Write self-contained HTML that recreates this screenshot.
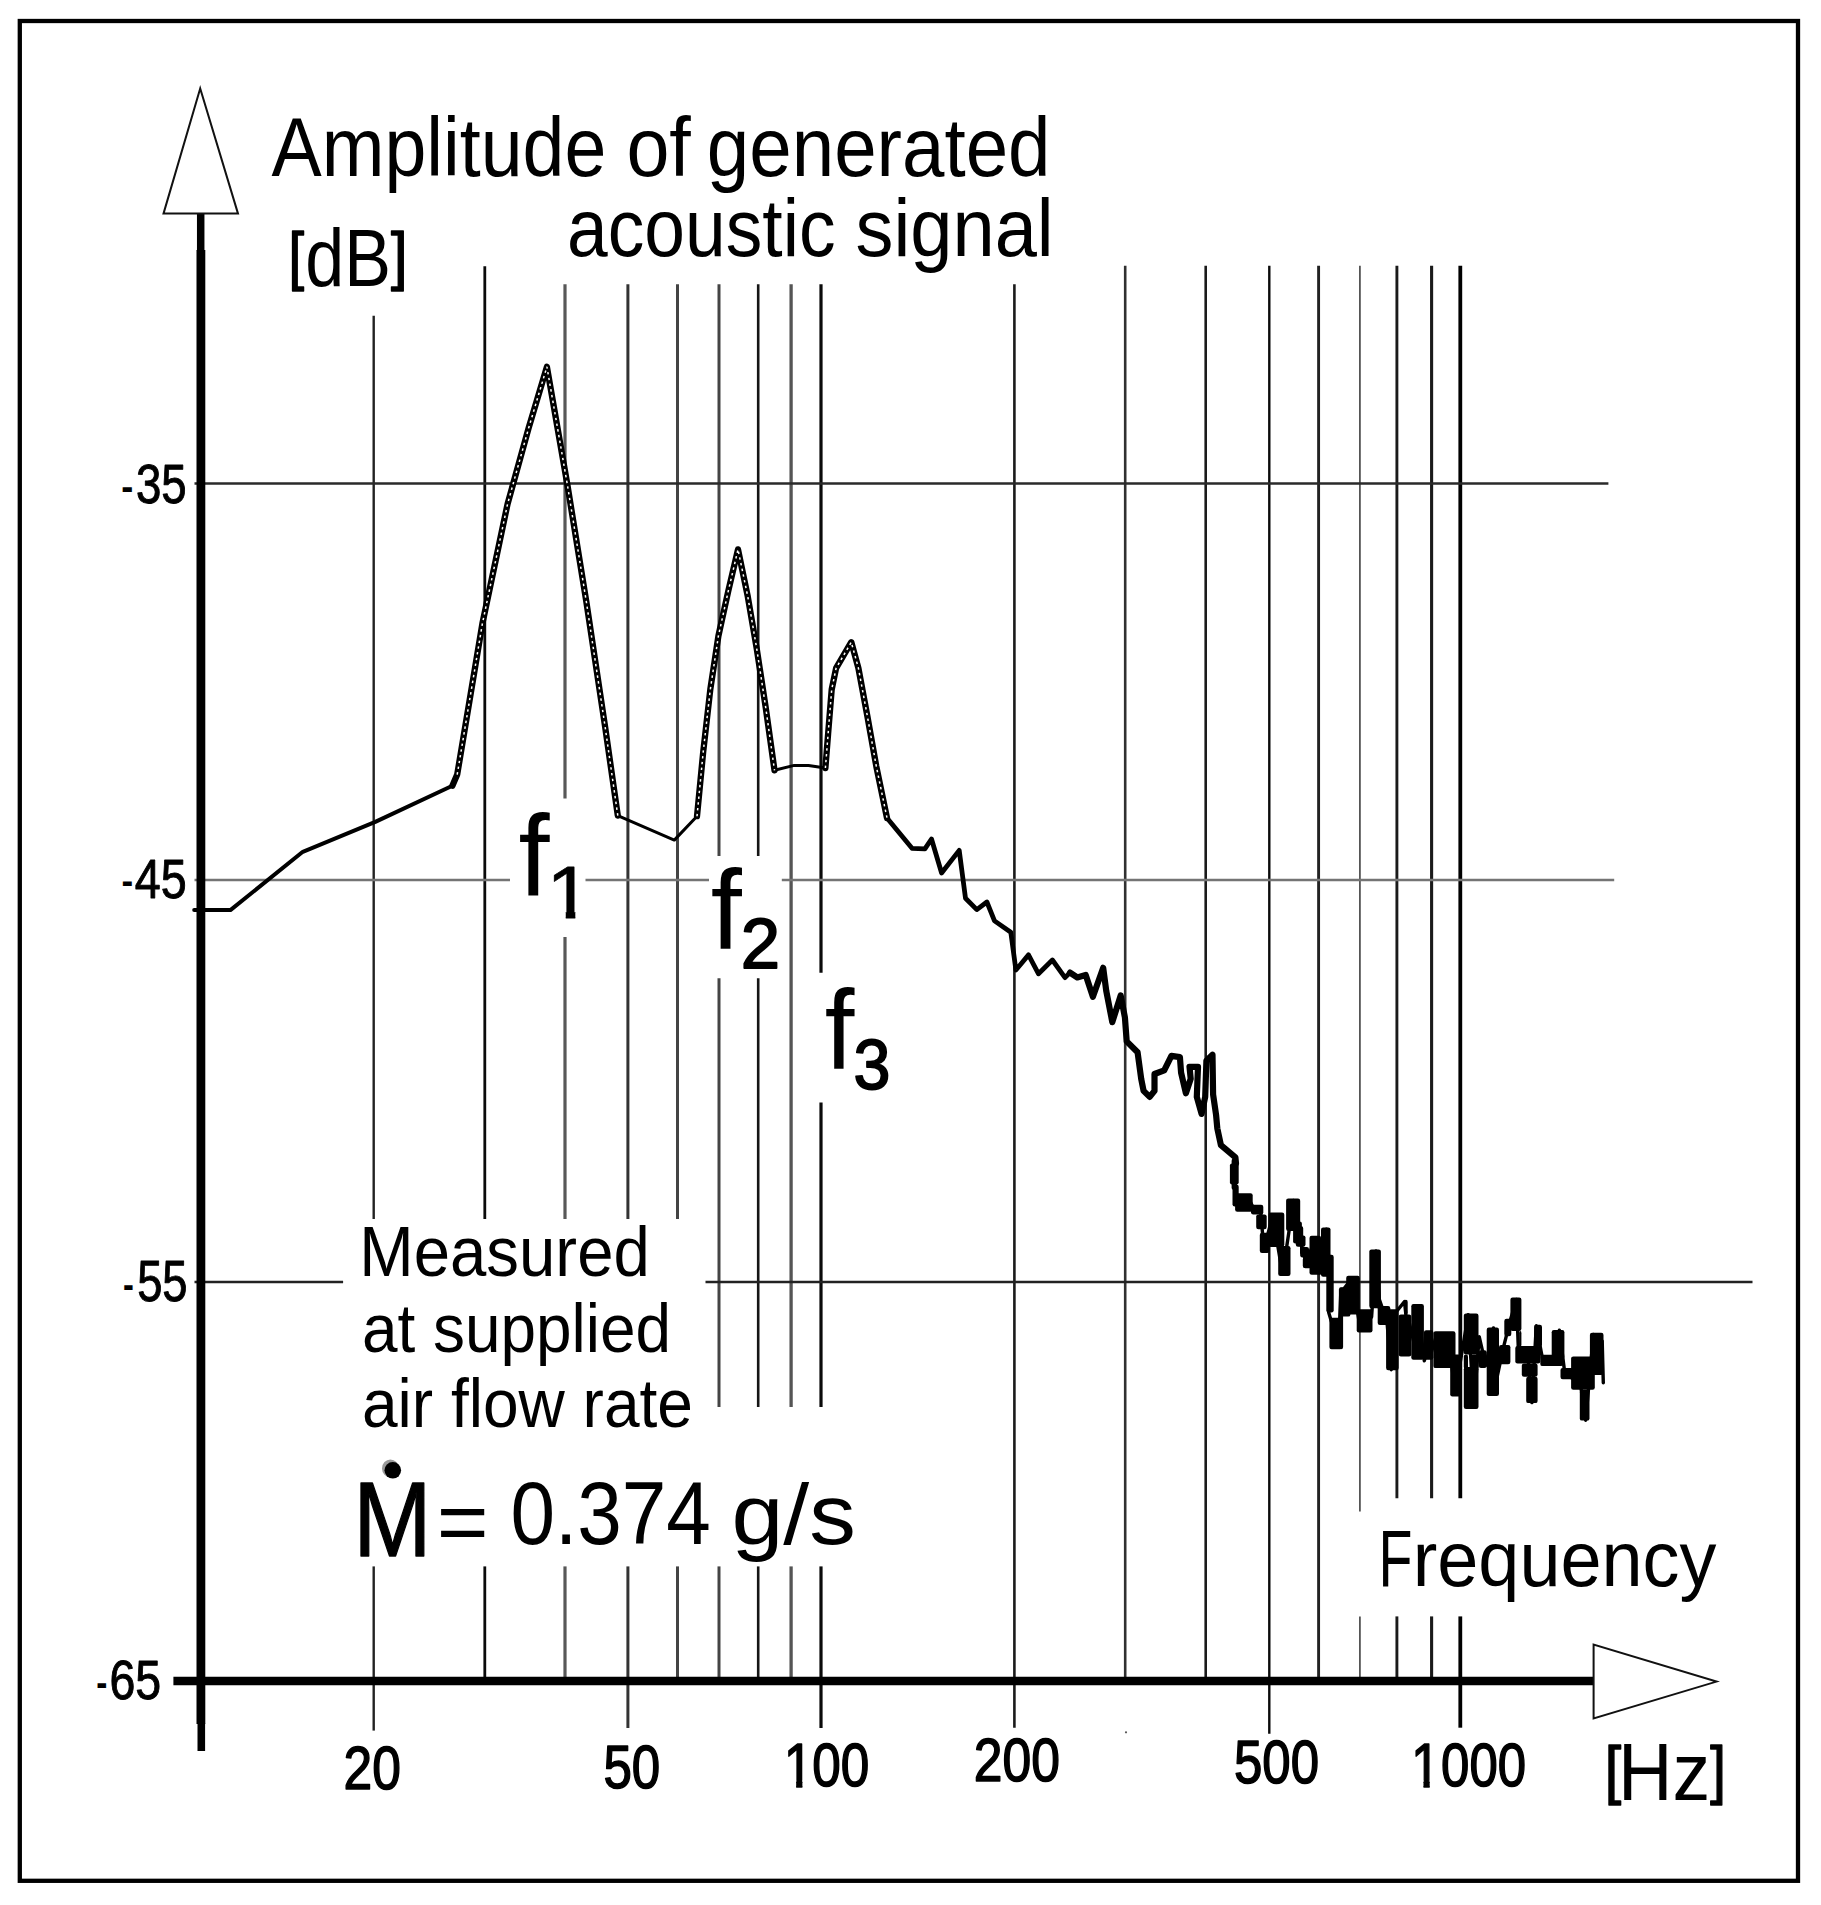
<!DOCTYPE html>
<html lang="en"><head><meta charset="utf-8"><title>Amplitude of generated acoustic signal</title>
<style>html,body{margin:0;padding:0;background:#fff}body{width:1821px;height:1905px;overflow:hidden}svg{display:block}text{font-family:"Liberation Sans",sans-serif;font-size:100px;white-space:pre}</style></head><body>
<svg width="1821" height="1905" viewBox="0 0 1821 1905">
<defs><clipPath id="nofoot" clipPathUnits="userSpaceOnUse"><path d="M-5,-90H70V-9.8H35.4V4H23.6V-9.8H-5Z"/></clipPath></defs>
<rect x="0" y="0" width="1821" height="1905" fill="#fff"/>
<rect x="19.8" y="21" width="1778.2" height="1859.8" fill="none" stroke="#000" stroke-width="4.3"/>
<g id="grid">
<line x1="373.7" y1="315.7" x2="373.7" y2="1219.1" stroke="#222" stroke-width="2.4"/>
<line x1="373.7" y1="1566.4" x2="373.7" y2="1730.6" stroke="#222" stroke-width="2.4"/>
<line x1="484.8" y1="266.3" x2="484.8" y2="1219.1" stroke="#0a0a0a" stroke-width="2.8"/>
<line x1="484.8" y1="1566.4" x2="484.8" y2="1681" stroke="#0a0a0a" stroke-width="2.8"/>
<line x1="565.0" y1="284.3" x2="565.0" y2="798.4" stroke="#585858" stroke-width="3.2"/>
<line x1="565.0" y1="937.1" x2="565.0" y2="1219.1" stroke="#585858" stroke-width="3.2"/>
<line x1="565.0" y1="1566.4" x2="565.0" y2="1681" stroke="#585858" stroke-width="3.2"/>
<line x1="627.9" y1="284.3" x2="627.9" y2="1219.1" stroke="#333" stroke-width="3.0"/>
<line x1="627.9" y1="1566.4" x2="627.9" y2="1728" stroke="#333" stroke-width="3.0"/>
<line x1="677.5" y1="284.3" x2="677.5" y2="1219.1" stroke="#444" stroke-width="3.0"/>
<line x1="677.5" y1="1566.4" x2="677.5" y2="1681" stroke="#444" stroke-width="3.0"/>
<line x1="719.0" y1="284.3" x2="719.0" y2="856.1" stroke="#444" stroke-width="3.0"/>
<line x1="719.0" y1="978.3" x2="719.0" y2="1406.9" stroke="#444" stroke-width="3.0"/>
<line x1="719.0" y1="1566.4" x2="719.0" y2="1681" stroke="#444" stroke-width="3.0"/>
<line x1="758.2" y1="284.3" x2="758.2" y2="856.1" stroke="#151515" stroke-width="2.6"/>
<line x1="758.2" y1="978.3" x2="758.2" y2="1406.9" stroke="#151515" stroke-width="2.6"/>
<line x1="758.2" y1="1566.4" x2="758.2" y2="1681" stroke="#151515" stroke-width="2.6"/>
<line x1="791.1" y1="284.3" x2="791.1" y2="1406.9" stroke="#555" stroke-width="3.3"/>
<line x1="791.1" y1="1566.4" x2="791.1" y2="1681" stroke="#555" stroke-width="3.3"/>
<line x1="821.0" y1="284.3" x2="821.0" y2="972.8" stroke="#0a0a0a" stroke-width="3.2"/>
<line x1="821.0" y1="1102.4" x2="821.0" y2="1406.9" stroke="#0a0a0a" stroke-width="3.2"/>
<line x1="821.0" y1="1566.4" x2="821.0" y2="1728" stroke="#0a0a0a" stroke-width="3.2"/>
<line x1="1014.4" y1="284.3" x2="1014.4" y2="1727.7" stroke="#1a1a1a" stroke-width="2.6"/>
<line x1="1125.2" y1="265.7" x2="1125.2" y2="1681" stroke="#303030" stroke-width="2.6"/>
<line x1="1205.7" y1="265.7" x2="1205.7" y2="1681" stroke="#1a1a1a" stroke-width="2.6"/>
<line x1="1269.3" y1="265.7" x2="1269.3" y2="1733.8" stroke="#0a0a0a" stroke-width="2.4"/>
<line x1="1318.6" y1="265.7" x2="1318.6" y2="1681" stroke="#222" stroke-width="2.9"/>
<line x1="1359.9" y1="265.7" x2="1359.9" y2="1511.6" stroke="#555" stroke-width="1.8"/>
<line x1="1359.9" y1="1616.4" x2="1359.9" y2="1681" stroke="#555" stroke-width="1.8"/>
<line x1="1396.9" y1="265.7" x2="1396.9" y2="1498.2" stroke="#1a1a1a" stroke-width="2.9"/>
<line x1="1396.9" y1="1616.4" x2="1396.9" y2="1681" stroke="#1a1a1a" stroke-width="2.9"/>
<line x1="1431.6" y1="265.7" x2="1431.6" y2="1498.2" stroke="#1a1a1a" stroke-width="3.1"/>
<line x1="1431.6" y1="1616.4" x2="1431.6" y2="1681" stroke="#1a1a1a" stroke-width="3.1"/>
<line x1="1460.3" y1="265.7" x2="1460.3" y2="1498.2" stroke="#000" stroke-width="3.8"/>
<line x1="1460.3" y1="1616.4" x2="1460.3" y2="1727.7" stroke="#000" stroke-width="3.8"/>
<line x1="194.5" y1="483.5" x2="1608.4" y2="483.5" stroke="#2a2a2a" stroke-width="2.3"/>
<line x1="194.5" y1="880" x2="510" y2="880" stroke="#747474" stroke-width="2.6"/>
<line x1="585.5" y1="880" x2="709" y2="880" stroke="#747474" stroke-width="2.6"/>
<line x1="781.8" y1="880" x2="1614.2" y2="880" stroke="#747474" stroke-width="2.6"/>
<line x1="194.5" y1="1282" x2="343.1" y2="1282" stroke="#222" stroke-width="2.3"/>
<line x1="705.5" y1="1282" x2="1752.5" y2="1282" stroke="#222" stroke-width="2.3"/>
<circle cx="1126" cy="1732.3" r="1.1" fill="#555"/>
</g>
<g id="axes">
<line x1="200.7" y1="214" x2="200.7" y2="251" stroke="#000" stroke-width="7.5"/>
<line x1="200.9" y1="250" x2="200.9" y2="1724" stroke="#000" stroke-width="8.8"/>
<line x1="201.3" y1="1723" x2="201.3" y2="1751" stroke="#000" stroke-width="7.6"/>
<line x1="173.4" y1="1681" x2="1593" y2="1681" stroke="#000" stroke-width="8.6"/>
<polygon points="200.2,88.5 163.5,213.6 238,213.6" fill="#fff" stroke="#111" stroke-width="2" stroke-linejoin="miter"/>
<polygon points="1593.6,1644.6 1593.6,1718.4 1716.5,1681.6" fill="#fff" stroke="#111" stroke-width="2" stroke-linejoin="miter"/>
</g>
<g id="curve">
<polyline points="194.2,910.1 230.4,910.1 302.8,851.8 375.3,821.9 452.4,785.7" fill="none" stroke="#000" stroke-width="4.0" stroke-linejoin="round" stroke-linecap="round" />
<polyline points="452.4,785.7 457.2,774.6 482.4,623.5 507.6,503.8 528.6,428.2 546.9,366.8 567.4,484.9 586.3,601.4 605.2,727.4 617.8,815.6" fill="none" stroke="#000" stroke-width="6.3" stroke-linejoin="round" stroke-linecap="round" />
<polyline points="617.8,815.6 674.3,840.1 697.0,816.2" fill="none" stroke="#000" stroke-width="3.0" stroke-linejoin="round" stroke-linecap="round" />
<polyline points="697.0,816.2 703.2,752.0 710.3,689.5 718.4,636.0 728.2,591.4 738.0,549.4 747.8,596.7 756.7,648.5 765.7,707.4 774.5,770.3" fill="none" stroke="#000" stroke-width="6.3" stroke-linejoin="round" stroke-linecap="round" />
<polyline points="774.5,770.3 794.2,765.4 808.5,765.4 825.4,768.0" fill="none" stroke="#000" stroke-width="3.0" stroke-linejoin="round" stroke-linecap="round" />
<polyline points="825.4,768.0 828.1,734.1 831.7,689.5 836.1,668.1 851.3,642.2 858.4,668.1 867.4,716.3 876.3,766.3 887.0,818.0" fill="none" stroke="#000" stroke-width="6.3" stroke-linejoin="round" stroke-linecap="round" />
<polyline points="887.0,818.0 912.0,848.3 924.9,848.9 931.5,839.0 941.6,873.0 959.2,850.4 965.5,898.2 976.8,909.6 986.9,902.0 994.5,920.9 1010.8,932.2 1015.9,970.0 1028.5,954.9 1038.5,973.8 1052.4,960.0 1065.0,977.6 1070.0,972.6" fill="none" stroke="#000" stroke-width="4.8" stroke-linejoin="round" stroke-linecap="round" />
<polyline points="1070.0,972.6 1077.2,977.4 1085.7,975.0 1092.9,996.7 1103.2,967.8 1106.2,990.7 1112.3,1022.1 1120.7,995.5 1124.9,1017.3 1126.7,1041.4 1137.6,1052.3 1141.2,1078.8 1143.6,1090.9 1149.7,1096.9 1154.5,1090.9 1154.5,1074.0 1164.2,1070.4 1171.4,1055.9 1179.9,1057.1 1181.1,1072.8 1185.9,1093.3 1190.7,1078.8 1189.5,1066.8 1198.0,1066.8 1196.8,1096.9 1201.6,1113.9 1205.2,1096.9 1206.4,1060.7 1212.5,1054.7 1213.1,1094.5 1216.1,1115.1 1217.3,1128.3 1220.9,1145.2 1235.4,1157.3 1236.0,1163.3" fill="none" stroke="#000" stroke-width="6.2" stroke-linejoin="round" stroke-linecap="round" />
<polyline points="1234.3,1161.0 1234.3,1187.3" fill="none" stroke="#000" stroke-width="5.4" stroke-linejoin="round" stroke-linecap="round" />
<polyline points="1234.3,1161.0 1234.3,1187.3 1238.7,1209.3 1247.5,1196.1 1252.9,1207.1 1260.6,1211.5 1263.9,1248.8 1272.7,1215.9 1282.6,1274.1 1293.6,1200.5 1299.1,1237.9 1306.8,1264.2 1314.5,1237.9 1319.9,1273.0 1326.5,1229.1 1329.8,1273.0 1328.7,1312.5 1338.6,1345.5 1340.8,1292.8 1351.8,1278.5 1360.6,1330.1 1371.6,1316.9 1376.0,1251.0 1379.3,1299.4 1386.9,1321.3 1391.3,1369.7 1395.7,1312.5 1404.5,1301.6 1408.9,1343.3 1417.7,1306.0 1424.3,1360.9 1430.9,1336.7 1439.7,1365.3 1448.4,1334.5 1455.0,1393.8 1468.2,1314.7 1473.7,1407.0 1479.2,1336.7 1485.8,1365.3 1493.5,1327.9 1493.5,1393.8 1503.4,1347.7 1510.0,1321.3 1516.5,1299.4 1518.7,1358.7 1527.5,1352.1 1531.9,1402.6 1536.3,1325.7 1542.9,1360.9 1553.9,1358.7 1559.4,1330.1 1564.9,1374.0 1580.2,1382.8 1585.7,1420.2 1593.4,1334.5 1602.2,1341.1 1603.3,1382.8" fill="none" stroke="#000" stroke-width="3.4" stroke-linejoin="round" stroke-linecap="round" />
<rect x="1229.9" y="1163.4" width="8.8" height="21.1" rx="2.2" fill="#000"/>
<rect x="1232.5" y="1184.5" width="6.2" height="22.0" rx="2.2" fill="#000"/>
<rect x="1235.1" y="1193.3" width="17.6" height="18.5" rx="2.2" fill="#000"/>
<rect x="1251.0" y="1204.7" width="12.3" height="9.7" rx="2.2" fill="#000"/>
<rect x="1256.2" y="1214.4" width="10.5" height="14.9" rx="2.2" fill="#000"/>
<rect x="1259.8" y="1232.8" width="9.7" height="20.2" rx="2.2" fill="#000"/>
<rect x="1268.5" y="1212.6" width="15.8" height="34.3" rx="2.2" fill="#000"/>
<rect x="1278.2" y="1246.0" width="12.3" height="29.9" rx="2.2" fill="#000"/>
<rect x="1286.1" y="1198.5" width="14.1" height="32.5" rx="2.2" fill="#000"/>
<rect x="1293.1" y="1221.4" width="8.8" height="22.0" rx="2.2" fill="#000"/>
<rect x="1295.8" y="1235.4" width="9.7" height="11.4" rx="2.2" fill="#000"/>
<rect x="1300.2" y="1246.9" width="8.8" height="10.5" rx="2.2" fill="#000"/>
<rect x="1302.8" y="1257.4" width="8.8" height="10.5" rx="2.2" fill="#000"/>
<rect x="1300.0" y="1226.3" width="3.2" height="28.4" rx="2.2" fill="#000"/>
<rect x="1303.2" y="1249.4" width="8.4" height="18.9" rx="2.2" fill="#000"/>
<rect x="1309.5" y="1235.8" width="11.6" height="38.9" rx="2.2" fill="#000"/>
<rect x="1321.0" y="1227.4" width="9.5" height="49.4" rx="2.2" fill="#000"/>
<rect x="1326.3" y="1254.7" width="7.4" height="57.8" rx="2.2" fill="#000"/>
<rect x="1329.4" y="1317.7" width="12.6" height="31.5" rx="2.2" fill="#000"/>
<rect x="1338.9" y="1287.2" width="4.2" height="62.0" rx="2.2" fill="#000"/>
<rect x="1339.9" y="1287.2" width="10.5" height="29.4" rx="2.2" fill="#000"/>
<rect x="1346.2" y="1275.7" width="13.7" height="38.9" rx="2.2" fill="#000"/>
<rect x="1356.7" y="1309.3" width="15.8" height="23.1" rx="2.2" fill="#000"/>
<rect x="1369.3" y="1249.4" width="11.6" height="58.8" rx="2.2" fill="#000"/>
<rect x="1377.7" y="1306.1" width="12.6" height="18.9" rx="2.2" fill="#000"/>
<rect x="1386.1" y="1309.3" width="12.6" height="60.9" rx="2.2" fill="#000"/>
<rect x="1398.7" y="1314.5" width="12.6" height="42.0" rx="2.2" fill="#000"/>
<rect x="1404.0" y="1299.8" width="3.7" height="14.7" rx="2.2" fill="#000"/>
<rect x="1411.3" y="1304.0" width="12.6" height="55.7" rx="2.2" fill="#000"/>
<rect x="1423.9" y="1330.3" width="9.5" height="29.4" rx="2.2" fill="#000"/>
<rect x="1433.4" y="1331.3" width="22.1" height="36.8" rx="2.2" fill="#000"/>
<rect x="1450.2" y="1354.4" width="10.5" height="42.0" rx="2.2" fill="#000"/>
<rect x="1463.8" y="1313.5" width="14.7" height="41.0" rx="2.2" fill="#000"/>
<rect x="1463.8" y="1354.4" width="4.2" height="14.7" rx="2.2" fill="#000"/>
<rect x="1471.2" y="1354.4" width="7.4" height="14.7" rx="2.2" fill="#000"/>
<rect x="1463.8" y="1367.0" width="14.7" height="42.0" rx="2.2" fill="#000"/>
<rect x="1478.8" y="1350.3" width="7.9" height="17.6" rx="2.2" fill="#000"/>
<rect x="1486.7" y="1327.5" width="12.3" height="68.5" rx="2.2" fill="#000"/>
<rect x="1499.0" y="1345.0" width="11.4" height="19.3" rx="2.2" fill="#000"/>
<rect x="1504.3" y="1318.7" width="7.0" height="17.6" rx="2.2" fill="#000"/>
<rect x="1510.4" y="1297.6" width="11.0" height="33.4" rx="2.2" fill="#000"/>
<rect x="1519.2" y="1331.0" width="2.2" height="15.8" rx="2.2" fill="#000"/>
<rect x="1515.3" y="1345.9" width="25.0" height="17.6" rx="2.2" fill="#000"/>
<rect x="1521.8" y="1363.5" width="15.8" height="13.2" rx="2.2" fill="#000"/>
<rect x="1526.2" y="1376.7" width="11.4" height="26.4" rx="2.2" fill="#000"/>
<rect x="1534.1" y="1324.8" width="7.9" height="22.0" rx="2.2" fill="#000"/>
<rect x="1540.3" y="1354.7" width="22.8" height="11.4" rx="2.2" fill="#000"/>
<rect x="1551.7" y="1330.1" width="12.7" height="29.0" rx="2.2" fill="#000"/>
<rect x="1560.5" y="1367.9" width="14.9" height="11.4" rx="2.2" fill="#000"/>
<rect x="1571.1" y="1356.4" width="23.7" height="33.4" rx="2.2" fill="#000"/>
<rect x="1579.8" y="1389.8" width="9.7" height="30.8" rx="2.2" fill="#000"/>
<rect x="1589.9" y="1332.7" width="13.6" height="42.2" rx="2.2" fill="#000"/>
<polyline points="457.2,774.6 482.4,623.5 507.6,503.8 528.6,428.2 546.9,366.8 567.4,484.9 586.3,601.4 605.2,727.4 617.8,815.6" fill="none" stroke="#fff" stroke-width="1.5" stroke-dasharray="2.4 3.4" stroke-linecap="butt"/>
<polyline points="697.0,816.2 703.2,752.0 710.3,689.5 718.4,636.0 728.2,591.4 738.0,549.4 747.8,596.7 756.7,648.5 765.7,707.4 774.5,770.3" fill="none" stroke="#fff" stroke-width="1.5" stroke-dasharray="2.4 3.4" stroke-linecap="butt"/>
<polyline points="825.4,768.0 828.1,734.1 831.7,689.5 836.1,668.1 851.3,642.2 858.4,668.1 867.4,716.3 876.3,766.3 887.0,818.0" fill="none" stroke="#fff" stroke-width="1.5" stroke-dasharray="2.4 3.4" stroke-linecap="butt"/>
</g>
<g id="labels">
<g><text transform="matrix(0.7530 0 0 0.8315 271.50 175.50)" fill="#000" >Amplitude </text><text transform="matrix(0.7725 0 0 0.8315 626.41 175.50)" fill="#000" >of </text><text transform="matrix(0.7632 0 0 0.8315 706.85 175.50)" fill="#000" >generated</text></g>
<g><text transform="matrix(0.7319 0 0 0.8110 567.07 256.20)" fill="#000" >acoustic </text><text transform="matrix(0.7587 0 0 0.8110 855.48 256.20)" fill="#000" >signal</text></g>
<g><text transform="matrix(0.5600 0 0 0.6553 288.48 277.54)" fill="#000"  stroke="#000" stroke-width="1.4" stroke-linejoin="round" vector-effect="non-scaling-stroke">[</text><text transform="matrix(0.7006 0 0 0.8137 305.30 285.80)" fill="#000" >dB</text><text transform="matrix(0.5952 0 0 0.6553 390.90 277.54)" fill="#000"  stroke="#000" stroke-width="1.4" stroke-linejoin="round" vector-effect="non-scaling-stroke">]</text></g>
<g><text transform="matrix(0.3760 0 0 0.6000 121.00 505.00)" fill="#000" >-</text><text transform="matrix(0.4560 0 0 0.5620 135.88 502.99)" fill="#000"  stroke="#000" stroke-width="0.9" stroke-linejoin="round" vector-effect="non-scaling-stroke">35</text></g>
<g><text transform="matrix(0.3640 0 0 0.5750 121.34 898.93)" fill="#000" >-</text><text transform="matrix(0.4668 0 0 0.5549 134.72 898.00)" fill="#000"  stroke="#000" stroke-width="0.9" stroke-linejoin="round" vector-effect="non-scaling-stroke">45</text></g>
<g><text transform="matrix(0.3400 0 0 0.5875 122.84 1303.01)" fill="#000" >-</text><text transform="matrix(0.4526 0 0 0.5643 137.14 1301.39)" fill="#000"  stroke="#000" stroke-width="0.9" stroke-linejoin="round" vector-effect="non-scaling-stroke">55</text></g>
<g><text transform="matrix(0.3480 0 0 0.5875 95.91 1700.51)" fill="#000" >-</text><text transform="matrix(0.4648 0 0 0.5577 109.43 1698.99)" fill="#000"  stroke="#000" stroke-width="0.9" stroke-linejoin="round" vector-effect="non-scaling-stroke">65</text></g>
<g><text transform="matrix(0.5155 0 0 0.6085 343.62 1789.29)" fill="#000"  stroke="#000" stroke-width="1.4" stroke-linejoin="round" vector-effect="non-scaling-stroke">20</text></g>
<g><text transform="matrix(0.5105 0 0 0.6085 603.46 1788.29)" fill="#000"  stroke="#000" stroke-width="1.4" stroke-linejoin="round" vector-effect="non-scaling-stroke">50</text></g>
<g><text transform="matrix(0.5267 0 0 0.6265 783.74 1786.60)" fill="#000"  stroke="#000" stroke-width="1.4" stroke-linejoin="round" vector-effect="non-scaling-stroke" clip-path="url(#nofoot)">1</text><text transform="matrix(0.5124 0 0 0.6155 812.36 1786.28)" fill="#000"  stroke="#000" stroke-width="1.4" stroke-linejoin="round" vector-effect="non-scaling-stroke">00</text></g>
<g><text transform="matrix(0.5163 0 0 0.6042 973.82 1781.40)" fill="#000"  stroke="#000" stroke-width="1.4" stroke-linejoin="round" vector-effect="non-scaling-stroke">200</text></g>
<g><text transform="matrix(0.5100 0 0 0.6141 1233.96 1783.29)" fill="#000"  stroke="#000" stroke-width="1.4" stroke-linejoin="round" vector-effect="non-scaling-stroke">500</text></g>
<g><text transform="matrix(0.5267 0 0 0.6337 1411.04 1786.60)" fill="#000"  stroke="#000" stroke-width="1.4" stroke-linejoin="round" vector-effect="non-scaling-stroke" clip-path="url(#nofoot)">1</text><text transform="matrix(0.5093 0 0 0.6197 1441.07 1786.38)" fill="#000"  stroke="#000" stroke-width="1.4" stroke-linejoin="round" vector-effect="non-scaling-stroke">000</text></g>
<g><text transform="matrix(0.5900 0 0 0.6511 1604.87 1791.63)" fill="#000"  stroke="#000" stroke-width="1.4" stroke-linejoin="round" vector-effect="non-scaling-stroke">[</text><text transform="matrix(0.7549 0 0 0.8116 1617.96 1800.20)" fill="#000" >Hz</text><text transform="matrix(0.5619 0 0 0.6511 1710.30 1791.63)" fill="#000"  stroke="#000" stroke-width="1.4" stroke-linejoin="round" vector-effect="non-scaling-stroke">]</text></g>
<g><text transform="matrix(0.5560 0 0 0.8058 1378.55 1586.10)" fill="#000" >F</text><text transform="matrix(0.7386 0 0 0.7870 1412.67 1586.10)" fill="#000" >requency</text></g>
<g><text transform="matrix(0.6535 0 0 0.7082 359.27 1276.40)" fill="#000" >Measured</text></g>
<g><text transform="matrix(0.6393 0 0 0.6863 361.94 1352.20)" fill="#000" >at supplied</text></g>
<g><text transform="matrix(0.6406 0 0 0.6767 361.94 1427.30)" fill="#000" >air flow rate</text></g>
<ellipse cx="390.4" cy="1468.4" rx="8.4" ry="9" fill="#9a9a9a"/>
<circle cx="392.8" cy="1470.3" r="8.3" fill="#000"/>
<g><text transform="matrix(0.9397 0 0 1.0500 353.33 1555.80)" fill="#000"  stroke="#000" stroke-width="1.3" stroke-linejoin="round" vector-effect="non-scaling-stroke">M</text><text transform="matrix(0.8880 0 0 0.8788 436.75 1552.44)" fill="#000" >= </text><text transform="matrix(0.8012 0 0 0.8958 510.40 1544.40)" fill="#000" >0.374 </text><text transform="matrix(0.9328 0 0 0.8575 731.47 1544.30)" fill="#000" >g/s</text></g>
<g><text transform="matrix(1.1185 0 0 1.1466 518.48 894.50)" fill="#000" >f</text><text transform="matrix(0.8107 0 0 0.7398 546.62 918.30)" fill="#000"  stroke="#000" stroke-width="0.8" stroke-linejoin="round" vector-effect="non-scaling-stroke" clip-path="url(#nofoot)">1</text></g>
<g><text transform="matrix(1.1185 0 0 1.1397 710.68 948.90)" fill="#000" >f</text><text transform="matrix(0.7065 0 0 0.7071 740.77 968.30)" fill="#000"  stroke="#000" stroke-width="1.8" stroke-linejoin="round" vector-effect="non-scaling-stroke">2</text></g>
<g><text transform="matrix(1.0667 0 0 1.1288 824.73 1068.90)" fill="#000" >f</text><text transform="matrix(0.6633 0 0 0.7099 853.51 1089.29)" fill="#000"  stroke="#000" stroke-width="1.8" stroke-linejoin="round" vector-effect="non-scaling-stroke">3</text></g>
</g>
</svg></body></html>
